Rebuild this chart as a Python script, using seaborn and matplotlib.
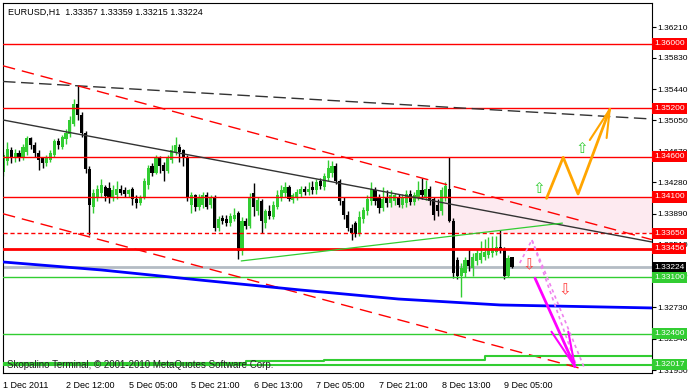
import numpy as np
import pandas as pd
import seaborn as sns
import matplotlib.pyplot as plt

sns.set_theme(style="white")
plt.rcParams['font.family'] = ['Liberation Sans', 'DejaVu Sans']

# EURUSD H1 candles, 1 Dec - 9 Dec 2011 (bar index order)
opens = [
    1.3441, 1.3455, 1.3468, 1.3458, 1.3464, 1.3460, 1.3466, 1.3483, 1.3475, 1.3465,
    1.3458, 1.3452, 1.3456, 1.3462, 1.3480, 1.3472, 1.3482, 1.3488, 1.3500, 1.3525,
    1.3512, 1.3489, 1.3445, 1.3398, 1.3410, 1.3415, 1.3422, 1.3421, 1.3410, 1.3412,
    1.3420, 1.3418, 1.3414, 1.3420, 1.3408, 1.3403, 1.3410, 1.3425, 1.3448, 1.3440,
    1.3458, 1.3450, 1.3442, 1.3456, 1.3466, 1.3472, 1.3468, 1.3460, 1.3400, 1.3412,
    1.3398, 1.3400, 1.3412, 1.3400, 1.3410, 1.3372, 1.3384, 1.3382, 1.3378, 1.3383,
    1.3390, 1.3343, 1.3380, 1.3374, 1.3415, 1.3392, 1.3405, 1.3378, 1.3392, 1.3385,
    1.3398, 1.3410, 1.3415, 1.3422, 1.3406, 1.3410, 1.3414, 1.3420, 1.3416, 1.3422,
    1.3418, 1.3430, 1.3422, 1.3434, 1.3440, 1.3448, 1.3430, 1.3405, 1.3388, 1.3372,
    1.3378, 1.3364, 1.3382, 1.3392, 1.3405, 1.3418, 1.3410, 1.3396, 1.3410, 1.3402,
    1.3405, 1.3410, 1.3400, 1.3402, 1.3414, 1.3404, 1.3410, 1.3418, 1.3410, 1.3420,
    1.3408, 1.3400, 1.3392, 1.3410, 1.3420, 1.3380, 1.3332, 1.3312, 1.3315, 1.3332,
    1.3322, 1.3330, 1.3332, 1.3336, 1.3338, 1.3340, 1.3342, 1.3348, 1.3344, 1.3312,
    1.33357]
highs = [
    1.3466, 1.3478, 1.3472, 1.3470, 1.3468, 1.3476, 1.3486, 1.3485, 1.3478, 1.3468,
    1.3460, 1.3462, 1.3468, 1.3482, 1.3483, 1.3487, 1.3494, 1.3510, 1.3532, 1.3549,
    1.3515, 1.3492, 1.3448, 1.3420, 1.3425, 1.3432, 1.3425, 1.3428, 1.3425, 1.3430,
    1.3425, 1.3422, 1.3420, 1.3422, 1.3412, 1.3412, 1.3434, 1.3450, 1.3452, 1.3462,
    1.3461, 1.3454, 1.3462, 1.3475, 1.3485, 1.3476, 1.3470, 1.3462, 1.3416, 1.3414,
    1.3414, 1.3416, 1.3416, 1.3413, 1.3412, 1.3386, 1.3388, 1.3387, 1.3390, 1.3396,
    1.3392, 1.3385, 1.3384, 1.3415, 1.3427, 1.3410, 1.3408, 1.3395, 1.3400, 1.3405,
    1.3418, 1.3425, 1.3428, 1.3425, 1.3415, 1.3420, 1.3424, 1.3423, 1.3428, 1.3430,
    1.3432, 1.3433, 1.3440, 1.3456, 1.3455, 1.3452, 1.3432, 1.3410, 1.3392, 1.3376,
    1.3380, 1.3392, 1.3398, 1.3412, 1.3428, 1.3422, 1.3414, 1.3422, 1.3418, 1.3418,
    1.3415, 1.3414, 1.3414, 1.3418, 1.3418, 1.3416, 1.3430, 1.3434, 1.3431, 1.3424,
    1.3410, 1.3408, 1.3422, 1.3428, 1.3459, 1.3384, 1.3335, 1.3328, 1.3336, 1.3345,
    1.3340, 1.3345, 1.3355, 1.3358, 1.3360, 1.3362, 1.3362, 1.3369, 1.3348, 1.3338,
    1.33359]
lows = [
    1.3436, 1.3450, 1.3452, 1.3453, 1.3455, 1.3456, 1.3462, 1.3470, 1.3460, 1.3444,
    1.3446, 1.3448, 1.3453, 1.3460, 1.3470, 1.3470, 1.3476, 1.3485, 1.3498, 1.3505,
    1.3485, 1.3440, 1.3363, 1.3390, 1.3405, 1.3410, 1.3405, 1.3402, 1.3405, 1.3408,
    1.3412, 1.3410, 1.3410, 1.3400, 1.3396, 1.3400, 1.3408, 1.3420, 1.3436, 1.3438,
    1.3440, 1.3430, 1.3440, 1.3452, 1.3462, 1.3454, 1.3448, 1.3405, 1.3390, 1.3392,
    1.3394, 1.3396, 1.3395, 1.3396, 1.3368, 1.3368, 1.3376, 1.3374, 1.3374, 1.3380,
    1.3333, 1.3338, 1.3370, 1.3372, 1.3386, 1.3388, 1.3365, 1.3372, 1.3382, 1.3382,
    1.3395, 1.3405, 1.3410, 1.3405, 1.3402, 1.3406, 1.3410, 1.3413, 1.3413, 1.3414,
    1.3414, 1.3420, 1.3418, 1.3430, 1.3435, 1.3426, 1.3400, 1.3382, 1.3368, 1.3357,
    1.3360, 1.3362, 1.3378, 1.3388, 1.3400, 1.3400, 1.3390, 1.3392, 1.3398, 1.3398,
    1.3400, 1.3398, 1.3396, 1.3398, 1.3400, 1.3400, 1.3406, 1.3408, 1.3406, 1.3400,
    1.3381, 1.3386, 1.3388, 1.3405, 1.3379, 1.3309, 1.3308, 1.3286, 1.3310, 1.3318,
    1.3312, 1.3326, 1.3328, 1.3332, 1.3334, 1.3336, 1.3338, 1.3340, 1.3308, 1.3310,
    1.33215]
closes = [
    1.3462, 1.3470, 1.3458, 1.3464, 1.3460, 1.3472, 1.3483, 1.3475, 1.3465, 1.3456,
    1.3452, 1.3458, 1.3464, 1.3480, 1.3474, 1.3484, 1.3490, 1.3505, 1.3525, 1.3512,
    1.3489, 1.3445, 1.3400, 1.3415, 1.3420, 1.3425, 1.3411, 1.3410, 1.3418, 1.3420,
    1.3415, 1.3414, 1.3418, 1.3408, 1.3403, 1.3410, 1.3430, 1.3446, 1.3440, 1.3459,
    1.3448, 1.3442, 1.3458, 1.3468, 1.3474, 1.3466, 1.3460, 1.3410, 1.3412, 1.3398,
    1.3410, 1.3412, 1.3398, 1.3410, 1.3372, 1.3382, 1.3380, 1.3378, 1.3386, 1.3388,
    1.3343, 1.3380, 1.3374, 1.3410, 1.3398, 1.3406, 1.3380, 1.3392, 1.3386, 1.3400,
    1.3412, 1.3418, 1.3422, 1.3408, 1.3412, 1.3416, 1.3420, 1.3416, 1.3420, 1.3418,
    1.3428, 1.3424, 1.3436, 1.3446, 1.3448, 1.3430, 1.3405, 1.3388, 1.3372, 1.3365,
    1.3364, 1.3385, 1.3394, 1.3408, 1.3420, 1.3405, 1.3396, 1.3408, 1.3402, 1.3412,
    1.3412, 1.3400, 1.3410, 1.3414, 1.3404, 1.3412, 1.3418, 1.3412, 1.3420, 1.3405,
    1.3388, 1.3392, 1.3418, 1.3424, 1.3380, 1.3315, 1.3312, 1.3322, 1.3332, 1.3324,
    1.3335, 1.3340, 1.3340, 1.3342, 1.3345, 1.3346, 1.3348, 1.3344, 1.3312, 1.3334,
    1.33224]

time_labels = ["1 Dec 2011", "2 Dec 12:00", "5 Dec 05:00", "5 Dec 21:00", "6 Dec 13:00",
               "7 Dec 05:00", "7 Dec 21:00", "8 Dec 13:00", "9 Dec 05:00"]
price_ticks = [1.36210, 1.35830, 1.35440, 1.35050, 1.34670, 1.34280, 1.33890,
               1.33510, 1.33120, 1.32730, 1.32340, 1.31950]

# horizontal levels
red_levels = [1.3600, 1.3520, 1.3460, 1.3410]
red_thick = 1.33456
red_dashed = 1.3365
green_levels = [1.3310, 1.3240]
green_bottom = 1.32017
last_price = 1.33224

# drawn objects (bar, price)
black_trend_bars, black_trend_px = [-0.1, 165.8], [1.35056, 1.33540]
black_dash_bars, black_dash_px = [-0.1, 165.8], [1.35534, 1.35068]
red_upper_bars, red_upper_px = [-0.1, 165.8], [1.35729, 1.33569]
red_lower_bars, red_lower_px = [-0.1, 148.3], [1.33891, 1.31960]
green_trend_bars, green_trend_px = [60.8, 142.9], [1.33305, 1.33775]
green_step_bars = [-0.1, 41, 62, 82, 123, 165.8]
green_step_px = [1.32040, 1.32040, 1.32065, 1.32078, 1.32120, 1.32120]
ma_bars = [-0.1, 25, 50, 76, 101, 127, 165.8]
ma_px = [1.33292, 1.33193, 1.33069, 1.32944, 1.32832, 1.32758, 1.32721]
zone_bars, zone_px = [98.8, 166], [1.3365, 1.3410]

up_path_bars = [138.85, 143.1, 146.9, 155.0]
up_path_px = [1.34083, 1.34592, 1.34137, 1.35188]
up_barbs_bars = [149.9, 154.2]
up_barbs_px = [1.34807, 1.34832]
down_path_bars = [135.9, 146.1]
down_path_px = [1.33090, 1.31992]
down_barbs_bars = [140.1, 144.4]
down_barbs_px = [1.32426, 1.32426]
dot_path_bars = [132.0, 135.1, 146.6]
dot_path_px = [1.33280, 1.33565, 1.31988]
dot_path2_bars = [135.1, 148.4]
dot_path2_px = [1.33565, 1.31988]
up_marks = ([136.96, 147.8], [1.34207, 1.34704])
down_marks = ([134.4, 143.5], [1.33255, 1.32950])

df = pd.DataFrame({'o': opens, 'h': highs, 'l': lows, 'c': closes})
df['bar'] = np.arange(len(df))

fig = plt.figure(figsize=(6.88, 3.9), dpi=100)
ax = fig.add_axes([3 / 688, 17 / 390, 649 / 688, 370 / 390])
ax.set_facecolor('white')
ax.set_xlim(-0.1, 165.8)
ax.set_ylim(1.31913, 1.36509)

GREEN = '#32cd32'

# pink zone
ax.fill_between(zone_bars, zone_px[0], zone_px[1], color='#fdeaf0', lw=0, zorder=0)

# candles
up = df.c >= df.o
for sel, col in [(up, GREEN), (~up, 'black')]:
    d = df[sel]
    ax.vlines(d.bar, d.l, d.h, color=col, lw=1, zorder=2)
    ax.bar(d.bar, np.maximum((d.c - d.o).abs(), 0.00004), bottom=np.minimum(d.o, d.c),
           width=0.8, color=col, lw=0, zorder=2)

# levels
for p in red_levels:
    ax.axhline(p, color='red', lw=1, zorder=3)
ax.axhline(red_thick, color='red', lw=2, zorder=3)
ax.axhline(red_dashed, color='red', lw=1, ls=(0, (3, 2)), zorder=3)
for p in green_levels:
    ax.axhline(p, color=GREEN, lw=1, zorder=3)
ax.axhline(green_bottom, color=GREEN, lw=1.5, zorder=3)
ax.axhline(last_price, color='#b4bcc4', lw=2, zorder=1)

# trend lines
ax.plot(black_trend_bars, black_trend_px, color='#333333', lw=1, zorder=3)
ax.plot(black_dash_bars, black_dash_px, color='#333333', lw=1, ls=(0, (9, 4)), zorder=3)
ax.plot(red_upper_bars, red_upper_px, color='red', lw=1, ls=(0, (9, 5)), zorder=3)
ax.plot(red_lower_bars, red_lower_px, color='red', lw=1, ls=(0, (9, 5)), zorder=3)
ax.plot(green_trend_bars, green_trend_px, color=GREEN, lw=0.9, zorder=3)
ax.plot(green_step_bars, green_step_px, color=GREEN, lw=1.5, drawstyle='steps-post', zorder=3)
sns.lineplot(x=ma_bars, y=ma_px, color='#0000ff', lw=2, ax=ax, zorder=3)

# forecast arrows
ax.plot(up_path_bars, up_path_px, color='orange', lw=2, zorder=4)
for b, p in zip(up_barbs_bars, up_barbs_px):
    ax.plot([b, up_path_bars[-1]], [p, up_path_px[-1]], color='orange', lw=1.5, zorder=4)
ax.plot(dot_path_bars, dot_path_px, color='#ee82ee', lw=1.2, ls=(0, (2, 2)), zorder=4)
ax.plot(dot_path2_bars, dot_path2_px, color='#ee82ee', lw=1.2, ls=(0, (2, 2)), zorder=4)
ax.plot(down_path_bars, down_path_px, color='#ff00ff', lw=2, zorder=4)
for b, p in zip(down_barbs_bars, down_barbs_px):
    ax.plot([b, down_path_bars[-1]], [p, down_path_px[-1]], color='#ff00ff', lw=1.5, zorder=4)
for b, p in zip(*up_marks):
    ax.text(b, p, '\u21e7', color=GREEN, fontsize=11, ha='center', va='center',
            family='DejaVu Sans', zorder=5)
for b, p in zip(*down_marks):
    ax.text(b, p, '\u21e9', color='#ff4040', fontsize=11, ha='center', va='center',
            family='DejaVu Sans', zorder=5)

# axes
for s in ax.spines.values():
    s.set_color('black')
    s.set_linewidth(0.8)
ax.yaxis.tick_right()
ax.set_yticks(price_ticks)
ax.set_yticklabels([f"{p:.5f}" for p in price_ticks])
ax.set_xticks(np.arange(0, 16 * len(time_labels), 16))
ax.set_xticklabels(time_labels, ha='left')
ax.tick_params(axis='both', labelsize=6.5, length=3, width=0.8, color='black',
               labelcolor='black', direction='out', pad=2)
ax.tick_params(axis='y', labelsize=6, pad=1)
ax.tick_params(axis='x', pad=3)
ax.set_xlabel('')
ax.set_ylabel('')
ax.grid(False)

boxes = [(p, 'red', 'white') for p in red_levels + [red_dashed, red_thick]]
boxes += [(last_price, 'black', 'white')]
boxes += [(p, '#32cd32', 'white') for p in green_levels + [green_bottom]]
for p, fc, tc in boxes:
    ax.text(1.003, p, f"{p:.5f}", transform=ax.get_yaxis_transform(), ha='left',
            va='center', fontsize=6, color=tc, clip_on=False, zorder=10,
            bbox=dict(boxstyle='square,pad=0.25', fc=fc, ec='none'))

fig.text(8 / 688, 1 - 12 / 390, "EURUSD,H1  1.33357 1.33359 1.33215 1.33224",
         fontsize=6.5, va='center', ha='left', color='black')
fig.text(7 / 688, 1 - 365 / 390, "Skopalino Terminal, \u00a9 2001-2010 MetaQuotes Software Corp.",
         fontsize=7, va='center', ha='left', color='#222222')

fig.savefig('out.png', dpi=100)
